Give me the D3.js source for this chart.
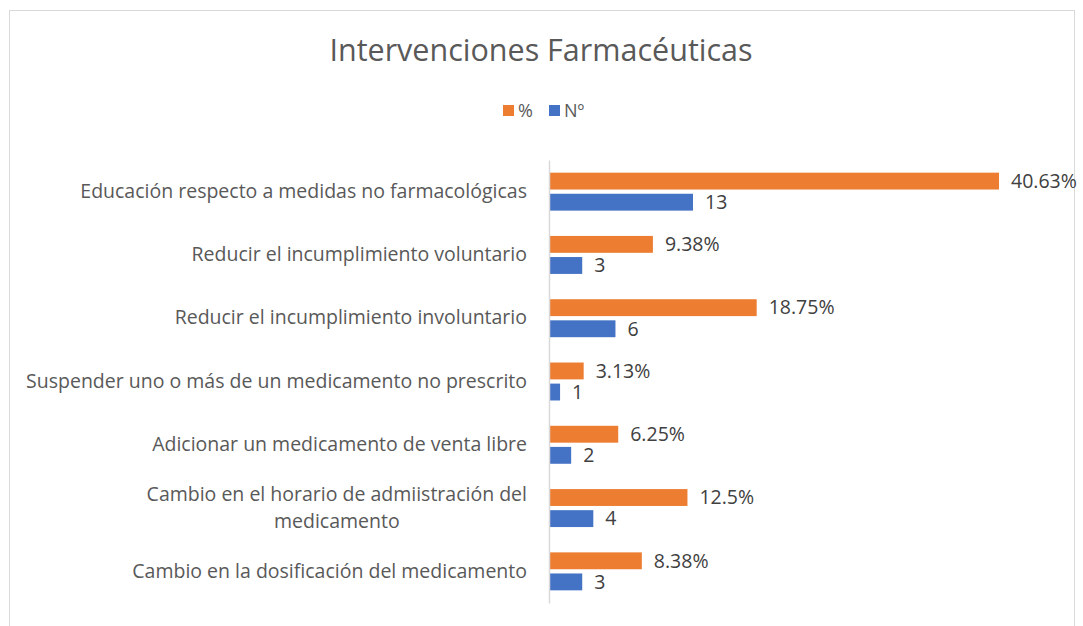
<!DOCTYPE html>
<html>
<head>
<meta charset="utf-8">
<script src="https://cdn.jsdelivr.net/npm/d3@7"></script>
<style>
  body { margin: 0; background: #fff; }
  text { font-family: "Open Sans", sans-serif; }
</style>
</head>
<body>
<div id="chart"></div>
<script>
// data
var categories = [
  "Educación respecto a medidas no farmacológicas",
  "Reducir el incumplimiento voluntario",
  "Reducir el incumplimiento involuntario",
  "Suspender uno o más de un medicamento no prescrito",
  "Adicionar un medicamento de venta libre",
  "Cambio en el horario de admiistración del medicamento",
  "Cambio en la dosificación del medicamento"
];
var pctValues = [40.63, 9.38, 18.75, 3.13, 6.25, 12.5, 8.38];
var pctLabels = ["40.63%", "9.38%", "18.75%", "3.13%", "6.25%", "12.5%", "8.38%"];
var numValues = [13, 3, 6, 1, 2, 4, 3];
var seriesNames = ["%", "Nº"];
var colors = ["#ed7d31", "#4472c4"];

var width = 1083, height = 626;

var svg = d3.select("#chart").append("svg")
  .attr("width", width)
  .attr("height", height);

// chart frame
svg.append("rect")
  .attr("x", 9.5).attr("y", 10.5)
  .attr("width", 1065).attr("height", 640)
  .attr("fill", "none")
  .attr("stroke", "#d9d9d9");

// title
svg.append("text")
  .attr("x", 541).attr("y", 61)
  .attr("text-anchor", "middle")
  .attr("fill", "#595959")
  .style("font-size", "30.5px")
  .text("Intervenciones Farmacéuticas");

// legend
var legend = svg.append("g");
var legendX = [503, 549];
seriesNames.forEach(function(name, i) {
  legend.append("rect")
    .attr("x", legendX[i]).attr("y", 105)
    .attr("width", 11).attr("height", 11)
    .attr("fill", colors[i]);
  legend.append("text")
    .attr("x", legendX[i] + 15).attr("y", 111)
    .attr("dy", "0.35em")
    .attr("fill", "#595959")
    .style("font-size", "18px")
    .text(name);
});

// scales
var x = d3.scaleLinear().domain([0, 45]).range([549, 549 + 45 * 11.076]);
var y0 = d3.scaleBand().domain(categories).range([160, 603])
  .paddingInner(0.4).paddingOuter(0.2);
var y1 = d3.scaleBand().domain(seriesNames).range([0, y0.bandwidth()])
  .paddingInner(0.2);

var rows = categories.map(function(c, i) {
  return {
    cat: c,
    bars: [
      { key: "%", value: pctValues[i], label: pctLabels[i] },
      { key: "Nº", value: numValues[i], label: String(numValues[i]) }
    ]
  };
});

var groups = svg.selectAll("g.row")
  .data(rows)
  .enter().append("g")
  .attr("class", "row")
  .attr("transform", d => `translate(0, ${y0(d.cat)})`);

groups.selectAll("rect")
  .data(d => d.bars)
  .enter().append("rect")
  .attr("x", x(0))
  .attr("y", d => y1(d.key))
  .attr("width", d => x(d.value) - x(0))
  .attr("height", y1.bandwidth())
  .attr("fill", (d, i) => colors[i]);

groups.selectAll("text.val")
  .data(d => d.bars)
  .enter().append("text")
  .attr("class", "val")
  .attr("x", d => x(d.value) + 12)
  .attr("y", d => y1(d.key) + y1.bandwidth() / 2)
  .attr("dy", "0.35em")
  .attr("fill", "#404040")
  .style("font-size", "19.5px")
  .text(d => d.label);

// category axis
var yAxis = d3.axisLeft(y0).tickSize(0).tickPadding(22);
var axisG = svg.append("g")
  .attr("transform", `translate(${x(0)}, 0)`)
  .call(yAxis);
axisG.select(".domain").attr("stroke", "#d9d9d9").attr("stroke-width", 1.5);
axisG.selectAll("text")
  .attr("fill", "#595959")
  .style("font-size", "19.5px")
  .style("font-family", "'Open Sans', sans-serif");

// wrap the long label onto two centred lines (one text per line)
axisG.selectAll(".tick").each(function(d) {
  if (d === categories[5]) {
    var tick = d3.select(this);
    var t = tick.select("text");
    var lines = ["Cambio en el horario de admiistración del", "medicamento"];
    t.text(lines[0]);
    var w = t.node().getComputedTextLength();
    t.attr("text-anchor", "middle").attr("x", -22 - w / 2).attr("y", -13.5);
    tick.append("text")
      .attr("x", -22 - w / 2).attr("y", 13.5)
      .attr("dy", "0.32em")
      .attr("text-anchor", "middle")
      .attr("fill", "#595959")
      .style("font-size", "19.5px")
      .text(lines[1]);
  }
});
</script>
</body>
</html>
